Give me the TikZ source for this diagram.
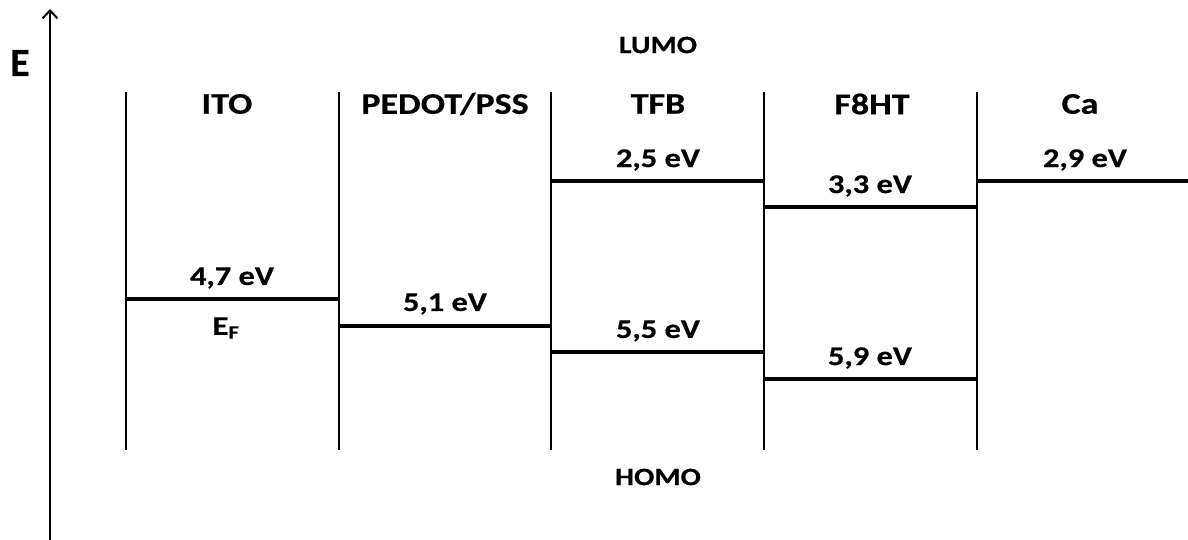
\documentclass[tikz,border=0pt]{standalone}
\usepackage{fontspec}
\usepackage{graphicx}
\setmainfont{Carlito}[FakeBold=0.5]
\newcommand{\widetxt}[1]{\scalebox{1.2}[1]{#1}}
\usetikzlibrary{arrows.meta}
\begin{document}
\begin{tikzpicture}[x=1pt,y=-1pt,
  lab/.style={font=\bfseries\fontsize{27}{29}\selectfont, inner sep=0pt, anchor=center},
  head/.style={font=\bfseries\fontsize{30}{32}\selectfont, inner sep=0pt, anchor=center},
  band/.style={font=\bfseries\fontsize{25}{27}\selectfont, inner sep=0pt, anchor=center},
  wall/.style={line width=2pt},
  level/.style={line width=3.2pt},
  axis/.style={line width=2pt,-{Straight Barb[length=8pt,width=15pt]}}]
\useasboundingbox (0,0) rectangle (1188,540);
% axis
\coordinate (a0) at (50,540);
\coordinate (a1) at (50,9);
\draw[axis] (a0) -- (a1);
\node[font=\bfseries\fontsize{40}{42}\selectfont, inner sep=0pt] (E) at (20,63) {E};
% walls
\foreach \n/\x in {w1/126,w2/339,w3/551,w4/764,w5/977}{
  \coordinate (\n t) at (\x,92);
  \coordinate (\n b) at (\x,450);
  \draw[wall] (\n t) -- (\n b);
}
\coordinate (rend) at (1188,181);
% levels
\draw[level] (126,299) coordinate (ito1) -- (339,299) coordinate (ito2);
\draw[level] (339,326) coordinate (ped1) -- (551,326) coordinate (ped2);
\draw[level] (551,181) coordinate (tfl1) -- (764,181) coordinate (tfl2);
\draw[level] (551,352) coordinate (tfh1) -- (764,352) coordinate (tfh2);
\draw[level] (764,207) coordinate (f8l1) -- (977,207) coordinate (f8l2);
\draw[level] (764,379) coordinate (f8h1) -- (977,379) coordinate (f8h2);
\draw[level] (977,181) coordinate (ca1) -- (rend);
% headers
\node[band] (lumo) at (658,45) {\widetxt{LUMO}};
\node[band] (homo) at (658,477) {\widetxt{HOMO}};
\node[head] (hito) at (227,104) {\widetxt{ITO}};
\node[head] (hped) at (445,104) {\widetxt{PEDOT/PSS}};
\node[head] (htfb) at (658,104) {\widetxt{TFB}};
\node[head] (hf8) at (872,104) {\widetxt{F8HT}};
\node[head] (hca) at (1080,104) {\widetxt{Ca}};
% values
\node[lab] (v1) at (232,278) {\widetxt{4,7 eV}};
\node[lab] (ef) at (226,328) {\widetxt{E\textsubscript{F}}};
\node[lab] (v2) at (445,304) {\widetxt{5,1 eV}};
\node[lab] (v3) at (658,160) {\widetxt{2,5 eV}};
\node[lab] (v4) at (658,331) {\widetxt{5,5 eV}};
\node[lab] (v5) at (870,186) {\widetxt{3,3 eV}};
\node[lab] (v6) at (870,358) {\widetxt{5,9 eV}};
\node[lab] (v7) at (1085,160) {\widetxt{2,9 eV}};
\end{tikzpicture}
\end{document}
